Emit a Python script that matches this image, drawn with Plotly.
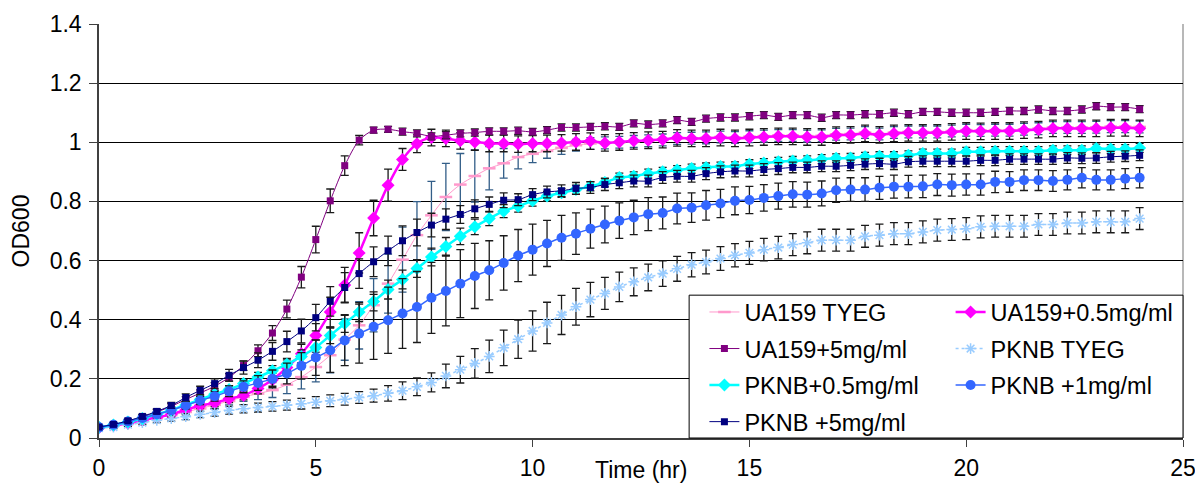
import plotly.graph_objects as go

# Time points (hr), every 20 minutes from 0 to 24 h
time_hr = [0, 0.333, 0.667, 1, 1.333, 1.667, 2, 2.333, 2.667, 3, 3.333, 3.667,
           4, 4.333, 4.667, 5, 5.333, 5.667, 6, 6.333, 6.667, 7, 7.333, 7.667,
           8, 8.333, 8.667, 9, 9.333, 9.667, 10, 10.333, 10.667, 11, 11.333, 11.667,
           12, 12.333, 12.667, 13, 13.333, 13.667, 14, 14.333, 14.667, 15, 15.333, 15.667,
           16, 16.333, 16.667, 17, 17.333, 17.667, 18, 18.333, 18.667, 19, 19.333, 19.667,
           20, 20.333, 20.667, 21, 21.333, 21.667, 22, 22.333, 22.667, 23, 23.333, 23.667, 24]

ua159_tyeg = [0.035, 0.042, 0.050, 0.058, 0.067, 0.077, 0.088, 0.100, 0.112, 0.125, 0.139, 0.150,
              0.162, 0.180, 0.206, 0.240, 0.280, 0.333, 0.381, 0.449, 0.522, 0.603, 0.686, 0.753,
              0.815, 0.857, 0.886, 0.912, 0.929, 0.950, 0.961, 0.971, 0.981, 0.990, 0.996, 0.998,
              1.000, 1.003, 1.005, 1.008, 1.013, 1.014, 1.015, 1.018, 1.016, 1.019, 1.021, 1.023,
              1.023, 1.021, 1.022, 1.027, 1.028, 1.033, 1.028, 1.033, 1.035, 1.035, 1.035, 1.038,
              1.041, 1.040, 1.041, 1.041, 1.044, 1.046, 1.050, 1.050, 1.050, 1.051, 1.053, 1.053, 1.052]
ua159_tyeg_err = [0.004, 0.005, 0.006, 0.007, 0.008, 0.009, 0.010, 0.011, 0.012, 0.013, 0.015, 0.020,
                  0.025, 0.030, 0.040, 0.050, 0.060, 0.070, 0.080, 0.090, 0.100, 0.110, 0.113, 0.115,
                  0.114, 0.105, 0.088, 0.073, 0.050, 0.040, 0.030, 0.025, 0.022, 0.020, 0.020, 0.020,
                  0.020, 0.020, 0.020, 0.020, 0.020, 0.020, 0.020, 0.020, 0.020, 0.020, 0.020, 0.020,
                  0.020, 0.020, 0.020, 0.020, 0.020, 0.020, 0.020, 0.020, 0.020, 0.020, 0.020, 0.020,
                  0.020, 0.020, 0.020, 0.020, 0.020, 0.020, 0.020, 0.020, 0.020, 0.020, 0.020, 0.020, 0.020]

ua159_05 = [0.035, 0.042, 0.050, 0.060, 0.070, 0.080, 0.095, 0.110, 0.118, 0.133, 0.144, 0.167,
            0.197, 0.238, 0.285, 0.347, 0.426, 0.517, 0.626, 0.744, 0.855, 0.942, 0.995, 1.016,
            1.013, 1.005, 1.001, 0.996, 0.996, 0.994, 0.996, 0.996, 0.998, 1.001, 1.004, 0.998,
            1.001, 1.005, 1.007, 1.009, 1.015, 1.013, 1.013, 1.016, 1.013, 1.016, 1.018, 1.020,
            1.020, 1.018, 1.018, 1.024, 1.025, 1.030, 1.025, 1.030, 1.032, 1.032, 1.032, 1.035,
            1.038, 1.037, 1.038, 1.038, 1.041, 1.043, 1.047, 1.047, 1.047, 1.047, 1.049, 1.049, 1.047]
ua159_05_err = [0.004, 0.005, 0.006, 0.007, 0.008, 0.009, 0.010, 0.011, 0.012, 0.013, 0.015, 0.018,
                0.022, 0.026, 0.032, 0.040, 0.050, 0.060, 0.068, 0.060, 0.054, 0.037, 0.030, 0.028,
                0.028, 0.028, 0.028, 0.028, 0.028, 0.028, 0.028, 0.028, 0.028, 0.028, 0.028, 0.028,
                0.028, 0.028, 0.028, 0.028, 0.028, 0.028, 0.028, 0.028, 0.028, 0.028, 0.028, 0.028,
                0.028, 0.028, 0.028, 0.028, 0.028, 0.028, 0.028, 0.028, 0.028, 0.028, 0.028, 0.028,
                0.028, 0.028, 0.028, 0.028, 0.028, 0.028, 0.028, 0.028, 0.028, 0.028, 0.028, 0.028, 0.028]

ua159_5 = [0.036, 0.045, 0.057, 0.071, 0.088, 0.107, 0.130, 0.152, 0.175, 0.205, 0.245, 0.295,
           0.355, 0.436, 0.544, 0.671, 0.802, 0.921, 1.007, 1.041, 1.044, 1.036, 1.030, 1.020,
           1.024, 1.030, 1.033, 1.037, 1.037, 1.039, 1.035, 1.041, 1.050, 1.050, 1.052, 1.054,
           1.052, 1.064, 1.060, 1.064, 1.075, 1.069, 1.080, 1.084, 1.084, 1.088, 1.092, 1.086,
           1.092, 1.092, 1.083, 1.092, 1.092, 1.095, 1.095, 1.100, 1.095, 1.103, 1.103, 1.100,
           1.100, 1.100, 1.103, 1.106, 1.106, 1.111, 1.106, 1.106, 1.111, 1.122, 1.119, 1.119, 1.112]
ua159_5_err = [0.004, 0.005, 0.006, 0.007, 0.008, 0.009, 0.010, 0.011, 0.012, 0.013, 0.016, 0.020,
               0.025, 0.030, 0.036, 0.045, 0.040, 0.033, 0.016, 0.010, 0.010, 0.012, 0.012, 0.012,
               0.012, 0.012, 0.012, 0.012, 0.012, 0.012, 0.012, 0.012, 0.012, 0.012, 0.012, 0.012,
               0.012, 0.012, 0.012, 0.012, 0.012, 0.012, 0.012, 0.012, 0.012, 0.012, 0.012, 0.012,
               0.012, 0.012, 0.012, 0.012, 0.012, 0.012, 0.012, 0.012, 0.012, 0.012, 0.012, 0.012,
               0.012, 0.012, 0.012, 0.012, 0.012, 0.012, 0.012, 0.012, 0.012, 0.012, 0.012, 0.012, 0.012]

pknb_tyeg = [0.033, 0.037, 0.045, 0.052, 0.060, 0.066, 0.072, 0.080, 0.086, 0.094, 0.099, 0.103,
             0.107, 0.111, 0.116, 0.121, 0.126, 0.131, 0.137, 0.143, 0.151, 0.160, 0.173, 0.188,
             0.210, 0.231, 0.252, 0.276, 0.305, 0.334, 0.362, 0.389, 0.416, 0.444, 0.468, 0.489,
             0.511, 0.528, 0.543, 0.556, 0.572, 0.586, 0.595, 0.607, 0.618, 0.626, 0.637, 0.644,
             0.654, 0.660, 0.669, 0.669, 0.669, 0.682, 0.686, 0.691, 0.691, 0.697, 0.703, 0.705,
             0.708, 0.714, 0.716, 0.716, 0.716, 0.722, 0.722, 0.727, 0.727, 0.731, 0.731, 0.731, 0.742]
pknb_tyeg_err = [0.004, 0.005, 0.006, 0.007, 0.008, 0.009, 0.010, 0.011, 0.012, 0.013, 0.014, 0.015,
                 0.016, 0.017, 0.018, 0.019, 0.020, 0.020, 0.020, 0.022, 0.026, 0.030, 0.030, 0.032,
                 0.040, 0.045, 0.050, 0.055, 0.060, 0.065, 0.068, 0.070, 0.066, 0.062, 0.058, 0.054,
                 0.050, 0.047, 0.045, 0.043, 0.042, 0.041, 0.040, 0.040, 0.039, 0.039, 0.038, 0.038,
                 0.037, 0.037, 0.037, 0.037, 0.037, 0.037, 0.037, 0.037, 0.037, 0.037, 0.037, 0.037,
                 0.037, 0.037, 0.037, 0.037, 0.037, 0.037, 0.037, 0.037, 0.037, 0.037, 0.037, 0.037, 0.037]

pknb_05 = [0.036, 0.044, 0.054, 0.066, 0.080, 0.095, 0.112, 0.130, 0.148, 0.164, 0.184, 0.206,
           0.227, 0.249, 0.276, 0.306, 0.347, 0.387, 0.426, 0.462, 0.502, 0.536, 0.573, 0.612,
           0.648, 0.682, 0.714, 0.742, 0.767, 0.784, 0.802, 0.818, 0.829, 0.840, 0.851, 0.864,
           0.881, 0.885, 0.894, 0.900, 0.906, 0.911, 0.915, 0.918, 0.919, 0.926, 0.930, 0.934,
           0.937, 0.939, 0.943, 0.946, 0.947, 0.951, 0.953, 0.953, 0.956, 0.962, 0.962, 0.962,
           0.968, 0.968, 0.970, 0.970, 0.970, 0.970, 0.973, 0.973, 0.973, 0.979, 0.977, 0.977, 0.981]
pknb_05_err = [0.004, 0.005, 0.006, 0.007, 0.008, 0.009, 0.010, 0.011, 0.012, 0.013, 0.014, 0.016,
               0.018, 0.020, 0.022, 0.025, 0.028, 0.030, 0.032, 0.032, 0.032, 0.032, 0.030, 0.030,
               0.030, 0.028, 0.026, 0.024, 0.022, 0.020, 0.018, 0.016, 0.015, 0.015, 0.015, 0.015,
               0.015, 0.015, 0.015, 0.015, 0.015, 0.015, 0.015, 0.015, 0.015, 0.015, 0.015, 0.015,
               0.015, 0.015, 0.015, 0.015, 0.015, 0.015, 0.015, 0.015, 0.015, 0.015, 0.015, 0.015,
               0.015, 0.015, 0.015, 0.015, 0.015, 0.015, 0.015, 0.015, 0.015, 0.015, 0.015, 0.015, 0.015]

pknb_1 = [0.036, 0.045, 0.056, 0.068, 0.080, 0.094, 0.110, 0.127, 0.141, 0.158, 0.173, 0.186,
          0.200, 0.218, 0.244, 0.272, 0.297, 0.330, 0.353, 0.376, 0.398, 0.421, 0.443, 0.474,
          0.497, 0.522, 0.548, 0.567, 0.592, 0.617, 0.637, 0.658, 0.677, 0.691, 0.708, 0.722,
          0.735, 0.746, 0.757, 0.761, 0.776, 0.779, 0.787, 0.793, 0.802, 0.805, 0.812, 0.818,
          0.824, 0.823, 0.827, 0.838, 0.840, 0.840, 0.846, 0.850, 0.850, 0.851, 0.857, 0.855,
          0.857, 0.857, 0.866, 0.866, 0.872, 0.872, 0.869, 0.873, 0.880, 0.873, 0.873, 0.877, 0.880]
pknb_1_err = [0.004, 0.005, 0.006, 0.007, 0.008, 0.010, 0.012, 0.014, 0.016, 0.018, 0.020, 0.025,
              0.030, 0.035, 0.045, 0.060, 0.075, 0.085, 0.100, 0.110, 0.112, 0.118, 0.120, 0.120,
              0.118, 0.115, 0.110, 0.100, 0.092, 0.088, 0.086, 0.078, 0.076, 0.070, 0.066, 0.062,
              0.060, 0.058, 0.056, 0.054, 0.052, 0.050, 0.050, 0.048, 0.047, 0.046, 0.045, 0.044,
              0.043, 0.042, 0.042, 0.041, 0.040, 0.040, 0.039, 0.039, 0.038, 0.038, 0.037, 0.037,
              0.036, 0.036, 0.036, 0.035, 0.035, 0.035, 0.035, 0.034, 0.034, 0.034, 0.034, 0.034, 0.034]

pknb_5 = [0.037, 0.046, 0.058, 0.073, 0.090, 0.110, 0.137, 0.161, 0.184, 0.212, 0.238, 0.263,
          0.293, 0.326, 0.362, 0.407, 0.462, 0.509, 0.556, 0.596, 0.633, 0.667, 0.695, 0.720,
          0.740, 0.756, 0.775, 0.790, 0.804, 0.806, 0.823, 0.832, 0.836, 0.844, 0.847, 0.857,
          0.863, 0.869, 0.869, 0.881, 0.885, 0.885, 0.894, 0.900, 0.903, 0.903, 0.908, 0.911,
          0.915, 0.915, 0.919, 0.919, 0.922, 0.926, 0.928, 0.926, 0.934, 0.936, 0.936, 0.936,
          0.936, 0.939, 0.939, 0.943, 0.943, 0.943, 0.943, 0.947, 0.946, 0.947, 0.951, 0.953, 0.956]
pknb_5_err = [0.004, 0.005, 0.006, 0.007, 0.008, 0.010, 0.012, 0.014, 0.016, 0.020, 0.022, 0.025,
              0.030, 0.035, 0.040, 0.045, 0.050, 0.050, 0.050, 0.050, 0.050, 0.050, 0.045, 0.040,
              0.035, 0.030, 0.030, 0.025, 0.025, 0.020, 0.020, 0.020, 0.020, 0.020, 0.020, 0.020,
              0.020, 0.020, 0.020, 0.020, 0.020, 0.020, 0.020, 0.020, 0.020, 0.020, 0.020, 0.020,
              0.018, 0.018, 0.018, 0.018, 0.018, 0.018, 0.018, 0.018, 0.018, 0.018, 0.018, 0.018,
              0.018, 0.018, 0.018, 0.018, 0.018, 0.018, 0.018, 0.018, 0.018, 0.018, 0.018, 0.018, 0.018]

FONT = "Liberation Sans, Arial, sans-serif"
ERR_DARK = "#1a1a1a"

series = [
    dict(name="UA159 TYEG", y=ua159_tyeg, e=ua159_tyeg_err, color="#FF99CC", lw=1,
         symbol="line-ew-open", size=9, mlw=2.5, dash="solid", ecolor="#335E88", legend="legend"),
    dict(name="UA159+0.5mg/ml", y=ua159_05, e=ua159_05_err, color="#FF00FF", lw=2.5,
         symbol="diamond", size=10, mlw=0, dash="solid", ecolor=ERR_DARK, legend="legend2"),
    dict(name="UA159+5mg/ml", y=ua159_5, e=ua159_5_err, color="#800080", lw=1,
         symbol="square", size=7, mlw=0, dash="solid", ecolor=ERR_DARK, legend="legend"),
    dict(name="PKNB TYEG", y=pknb_tyeg, e=pknb_tyeg_err, color="#99CCFF", lw=1.5,
         symbol="asterisk-open", size=9, mlw=1.5, dash="dot", ecolor=ERR_DARK, legend="legend2"),
    dict(name="PKNB+0.5mg/ml", y=pknb_05, e=pknb_05_err, color="#00FFFF", lw=2.5,
         symbol="diamond", size=10, mlw=0, dash="solid", ecolor=ERR_DARK, legend="legend"),
    dict(name="PKNB +1mg/ml", y=pknb_1, e=pknb_1_err, color="#3366FF", lw=1.5,
         symbol="circle", size=10, mlw=0, dash="solid", ecolor=ERR_DARK, legend="legend2"),
    dict(name="PKNB +5mg/ml", y=pknb_5, e=pknb_5_err, color="#000080", lw=1,
         symbol="square", size=7, mlw=0, dash="solid", ecolor=ERR_DARK, legend="legend"),
]

fig = go.Figure()
for s in series:
    fig.add_trace(go.Scatter(
        x=time_hr, y=s["y"], name=s["name"], mode="lines+markers",
        line=dict(color=s["color"], width=s["lw"], shape="spline", smoothing=0.8, dash=s["dash"]),
        marker=dict(symbol=s["symbol"], size=s["size"], color=s["color"],
                    line=dict(color=s["color"], width=s["mlw"])),
        error_y=dict(type="data", array=s["e"], visible=True, color=s["ecolor"],
                     thickness=1.3, width=4),
        legend=s["legend"], legendgroup=s["name"],
    ))

# legend frame (covers the data underneath, like the original)
fig.add_shape(type="rect", xref="paper", yref="paper", x0=0.5444, x1=1.0, y0=0.0, y1=0.345,
              fillcolor="white", line=dict(color="black", width=1), layer="above")
# right border of the plot area
fig.add_shape(type="line", xref="paper", yref="paper", x0=1, x1=1, y0=0, y1=1,
              line=dict(color="#A0A0A0", width=1.5), layer="below")

fig.add_annotation(text="Time (hr)", xref="paper", yref="paper", x=0.5, y=-0.077,
                   xanchor="center", yanchor="middle", showarrow=False,
                   font=dict(family=FONT, size=23, color="black"))

legend_common = dict(xanchor="left", yanchor="top", bgcolor="rgba(0,0,0,0)",
                     borderwidth=0, font=dict(family=FONT, size=23.5, color="black"),
                     traceorder="grouped", tracegroupgap=3, itemwidth=30)

fig.update_layout(
    width=1195, height=483,
    margin=dict(l=99, r=12, t=24, b=45, autoexpand=False),
    paper_bgcolor="white", plot_bgcolor="white",
    font=dict(family=FONT, size=23, color="black"),
    showlegend=True,
    legend=dict(x=0.5585, y=0.357, **legend_common),
    legend2=dict(x=0.7856, y=0.357, **legend_common),
    xaxis=dict(range=[0, 25], dtick=5, tick0=0, showgrid=False, zeroline=False,
               showline=True, linecolor="#404040", linewidth=1.5, automargin=False,
               ticks="outside", ticklen=7, tickcolor="#404040", ticklabelstandoff=2,
               ticklabeloverflow="allow",
               tickfont=dict(family=FONT, size=23, color="black")),
    yaxis=dict(range=[0, 1.4], dtick=0.2, tick0=0, showgrid=True, gridcolor="#000000",
               gridwidth=1, zeroline=False, showline=True, linecolor="#404040", linewidth=1.5,
               automargin=False,
               ticks="outside", ticklen=8, tickcolor="#404040", ticklabelstandoff=3,
               tickfont=dict(family=FONT, size=23, color="black"),
               title=dict(text="OD600", font=dict(family=FONT, size=23, color="black"),
                          standoff=14)),
)

fig.write_html("out.html")
